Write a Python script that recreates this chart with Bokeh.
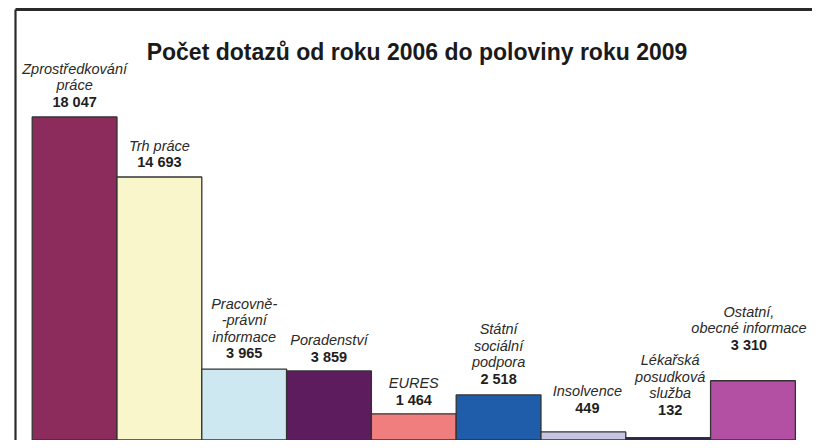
from bokeh.plotting import figure
from bokeh.models import ColumnDataSource, Range1d, LinearAxis, FixedTicker, Label
from bokeh.core.properties import value
from bokeh.embed import file_html
from bokeh.resources import INLINE

# ---- data ----
title_text = "Počet dotazů od roku 2006 do poloviny roku 2009"
categories = [
    "Zprostředkování\npráce",
    "Trh práce",
    "Pracovně-\n-právní\ninformace",
    "Poradenství",
    "EURES",
    "Státní\nsociální\npodpora",
    "Insolvence",
    "Lékařská\nposudková\nslužba",
    "Ostatní,\nobecné informace",
]
counts = [18047, 14693, 3965, 3859, 1464, 2518, 449, 132, 3310]
colors = ["#8C2C5C", "#F9F6CB", "#CDE8F0", "#5D1C5E", "#F07E7E",
          "#1F5CA9", "#C8C5E4", "#2B2550", "#B350A4"]

# ---- label placement (styling) ----
label_gap = [15, 15, 16, 14, 14, 16, 24, 28, 36]
label_dx = [0, 0, 0, 0, 0, 0, 4, 2, -4]
line_step = 16.5

xs = list(range(len(counts)))
bar_src = ColumnDataSource(dict(x=xs, top=counts, color=colors))

val_src = ColumnDataSource(dict(
    x=xs, y=counts,
    text=[f"{v:,}".replace(",", " ") for v in counts],
    dx=label_dx, dy=[-g for g in label_gap]))

cx, cy, ct, cdx, cdy = [], [], [], [], []
for i, cat in enumerate(categories):
    lines = cat.split("\n")
    n = len(lines)
    for j, ln in enumerate(lines):
        cx.append(xs[i]); cy.append(counts[i]); ct.append(ln)
        cdx.append(label_dx[i])
        cdy.append(-(label_gap[i] + line_step * (n - j)))
cat_src = ColumnDataSource(dict(x=cx, y=cy, text=ct, dx=cdx, dy=cdy))

x0, x1 = -0.697, 8.702
p = figure(width=812, height=440, output_backend="svg", toolbar_location=None,
           x_axis_type=None, y_axis_type=None,
           x_range=Range1d(x0, x1), y_range=Range1d(-28, 24053),
           min_border_left=15, min_border_top=9, min_border_right=0, min_border_bottom=0)
p.outline_line_color = None
p.grid.visible = False
p.background_fill_color = "white"
p.border_fill_color = "white"

for loc, w in (("left", 2.2), ("above", 2.8)):
    ax = LinearAxis(ticker=FixedTicker(ticks=[]), major_tick_out=0, major_tick_in=0,
                    minor_tick_out=0, minor_tick_in=0, major_label_standoff=0,
                    axis_line_color="#2a2a2a", axis_line_width=w)
    p.add_layout(ax, loc)

p.vbar(x="x", top="top", bottom=0, width=1, source=bar_src,
       fill_color="color", line_color="#333333", line_width=1.3)

p.text(x="x", y="y", text="text", x_offset="dx", y_offset="dy", source=val_src,
       text_font=value("Liberation Sans"), text_font_style="bold",
       text_font_size="14.5px", text_align="center", text_baseline="alphabetic",
       text_color="#1e1e1e")
p.text(x="x", y="y", text="text", x_offset="dx", y_offset="dy", source=cat_src,
       text_font=value("Liberation Sans"), text_font_style="italic",
       text_font_size="14.5px", text_align="center", text_baseline="alphabetic",
       text_color="#2a2a2a")

title = Label(x=401.5, y=389, x_units="screen", y_units="screen", text=title_text,
              text_font="Liberation Sans", text_font_style="bold", text_font_size="23px",
              text_align="center", text_baseline="alphabetic", text_color="#1a1a1a")
p.add_layout(title)

open("out.html", "w").write(file_html(p, INLINE))
